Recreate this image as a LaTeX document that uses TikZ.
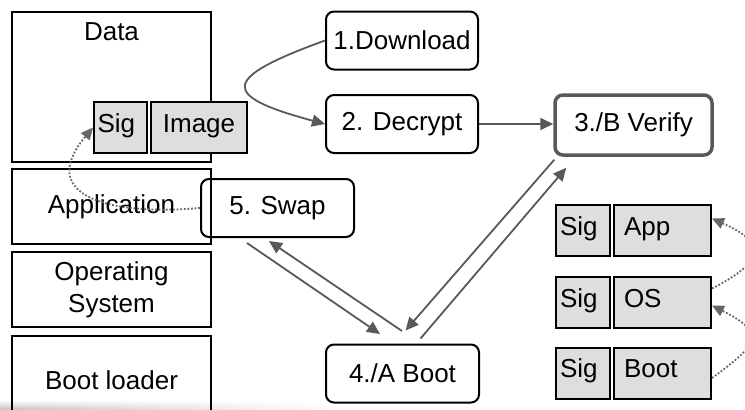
\documentclass[tikz,border=0pt]{standalone}
\usepackage{fontspec}
\setmainfont{Liberation Sans}
\usetikzlibrary{arrows.meta, calc, fadings}

\begin{document}
\begin{tikzpicture}[x=1pt, y=-1pt,
		font=\fontsize{26}{32}\selectfont,
		layer/.style={draw, line width=2pt, minimum width=199, inner sep=0pt, align=center},
		stage/.style={draw, line width=2pt, rounded corners=8pt, minimum width=152, minimum height=58, inner sep=0pt},
		part/.style={draw, line width=2pt, fill=black!13, minimum height=51, inner sep=0pt, text height=19pt, text depth=10pt},
		sigbox/.style={part, text width=46, align=left},
		flow/.style={draw=black!65, line width=1.8pt, -{Triangle[length=13pt, width=12pt]}},
		dots/.style={draw=black!60, line width=1.8pt, dash pattern=on 1.8pt off 1.8pt, -{Triangle[length=12pt, width=11pt]}}]
			\useasboundingbox (0,0) rectangle (745,410);
			\clip (0,0) rectangle (745,410);
			
			\shade[left color=black!28, middle color=black!22, right color=white, path fading=north] (0,400) rectangle (340,411);
			
			\node[layer, minimum height=150] (data) at (111.5,87) {};
			\node (datatxt) at (111.5,32) {Data};
			\node[layer, minimum height=75] (app) at (111.5,206.5) {Application};
			\node[layer, minimum height=75] (os) at (111.5,289.5) {Operating\\System};
			\node[layer, minimum height=89] (loader) at (111.5,380) {Boot loader};
			
			\node[sigbox, minimum width=53] (sig) at (120.5,127.5) {Sig};
			\node[part, minimum width=96] (image) at (199,127.5) {Image};
			
			\node[stage] (download) at (402,40.5) {1.Download};
			\node[stage] (decrypt) at (402,124) {2. Decrypt};
			\node[stage, draw=black!65, line width=3.5pt, minimum width=157, minimum height=60] (verify) at (633.5,125) {3./B Verify};
			\node[stage, minimum width=153] (swap) at (277.5,208) {5. Swap};
			\node[stage, minimum width=153] (boot) at (402.5,373.5) {4./A Boot};
			
			\foreach \n/\t/\y in {a/App/230.5, o/OS/302.5, b/Boot/373}
			{
				\node[sigbox, minimum width=54] (sig\n) at (583,\y) {Sig};
				\node[part, minimum width=97, text width=77, align=left] (img\n) at (662.5,\y) {\t};
			}
			
			\draw[flow] (download.west) .. controls +(160:110) and +(195:110) .. (decrypt.west);
			\draw[flow] (decrypt.east) -- (decrypt.east -| verify.west);
			
			\draw[flow] ($(verify.south west)+(1,3)$) -- ($(boot.north)+(3,-13)$);
			\draw[flow] ($(boot.north)+(18,-5)$) -- ($(verify.south west)+(13,11)$);
			\draw[flow] ($(swap.south)+(-30.5,5)$) -- ($(boot.north)+(-22.5,-9.5)$);
			\draw[flow] ($(boot.north)+(-0.5,-12.5)$) -- ($(swap.south)+(-8.5,3)$);
			
			\draw[dots] (swap.west) .. controls +(175:90) and +(130:90) .. (sig.west);
			\draw[dots] ([yshift=14pt]imgo.east) .. controls +(-27:60) and +(24:60) .. ([yshift=12pt]imga.east);
			\draw[dots] ([yshift=-5pt]imgb.east) .. controls +(-36:60) and +(27:60) .. ([yshift=-3pt]imgo.east);
		\end{tikzpicture}
\end{document}
